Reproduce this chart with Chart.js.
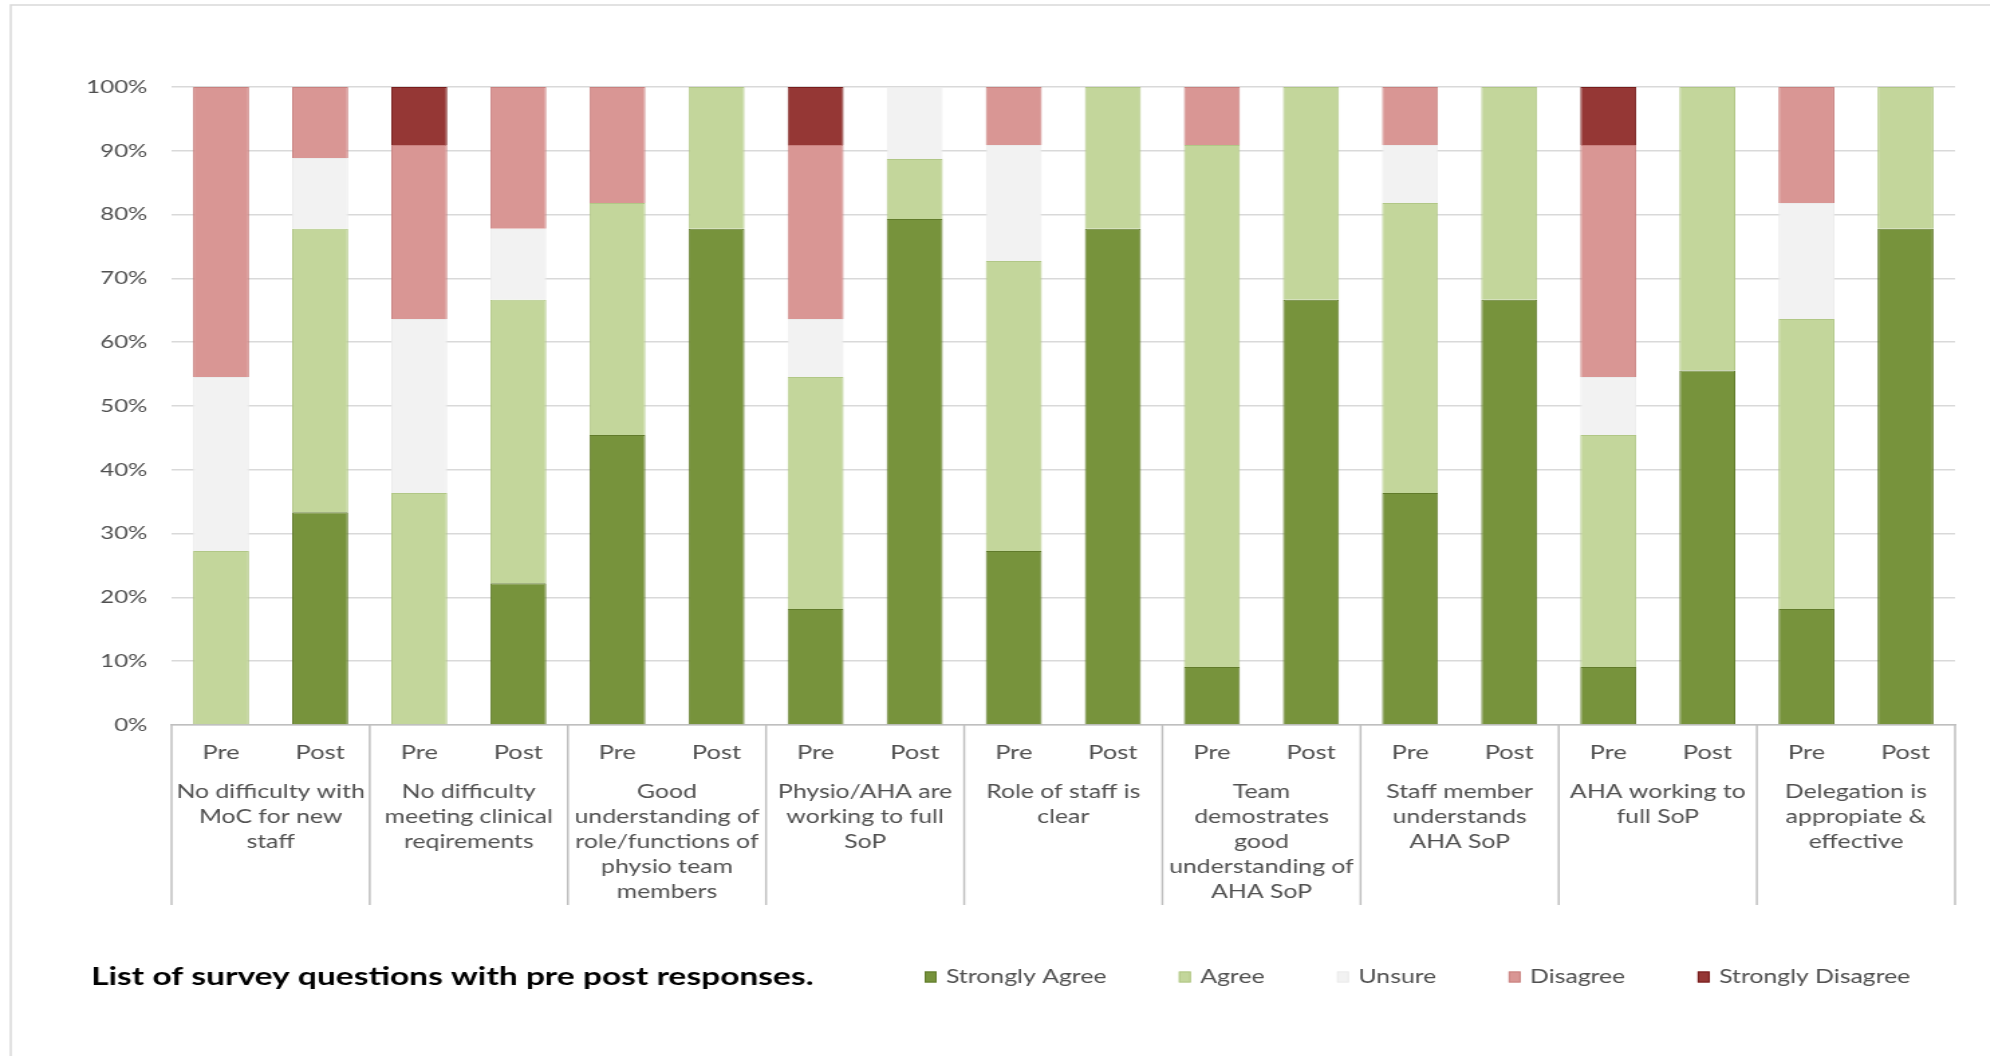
<!DOCTYPE html>
<html>
<head>
<meta charset="utf-8">
<title>Survey responses pre / post</title>
<script src="https://cdn.jsdelivr.net/npm/chart.js@4.4.1/dist/chart.umd.min.js"></script>
<style>
  html, body { margin: 0; padding: 0; background: #fff; overflow: hidden; }
  /* chart is laid out narrow and widened, the way the original export was */
  #wrap { width: 1485px; height: 1056px; transform: scaleX(1.34); transform-origin: 0 0; }
</style>
</head>
<body>
<div id="wrap"><canvas id="surveyChart"></canvas></div>
<script>
const questions = [
  ['No difficulty with', 'MoC for new', 'staff'],
  ['No difficulty', 'meeting clinical', 'reqirements'],
  ['Good', 'understanding of', 'role/functions of', 'physio team', 'members'],
  ['Physio/AHA are', 'working to full', 'SoP'],
  ['Role of staff is', 'clear'],
  ['Team', 'demostrates', 'good', 'understanding of', 'AHA SoP'],
  ['Staff member', 'understands', 'AHA SoP'],
  ['AHA working to', 'full SoP'],
  ['Delegation is', 'appropiate &', 'effective']
];
const phases = ['Pre', 'Post'];
const yTicks = [0, 10, 20, 30, 40, 50, 60, 70, 80, 90, 100];

// % of responses, one value per bar (Pre, Post for each question)
const strongAgree    = [0, 33.33, 0, 22.22, 45.45, 77.78, 18.18, 79.3, 27.27, 77.78, 9.09, 66.67, 36.36, 66.67, 9.09, 55.56, 18.18, 77.78];
const agree          = [27.27, 44.44, 36.36, 44.44, 36.36, 22.22, 36.36, 9.4, 45.45, 22.22, 81.82, 33.33, 45.45, 33.33, 36.36, 44.44, 45.45, 22.22];
const unsure         = [27.27, 11.11, 27.27, 11.11, 0, 0, 9.09, 11.3, 18.18, 0, 0, 0, 9.09, 0, 9.09, 0, 18.18, 0];
const disagree       = [45.45, 11.11, 27.27, 22.22, 18.18, 0, 27.27, 0, 9.09, 0, 9.09, 0, 9.09, 0, 36.36, 0, 18.18, 0];
const strongDisagree = [0, 0, 9.09, 0, 0, 0, 9.09, 0, 0, 0, 0, 0, 0, 0, 9.09, 0, 0, 0];

const chartTitle = 'List of survey questions with pre post responses.';

const FONT = 'Lato';
const TEXT = '#505050';

const labels = questions.flatMap(() => phases);

const series = [
  { label: 'Strongly Agree',    data: strongAgree,    fill: '#77933c', line: '#617b2b' },
  { label: 'Agree',             data: agree,          fill: '#c3d69b', line: '#b1c786' },
  { label: 'Unsure',            data: unsure,         fill: '#f2f2f2', line: '#ececec' },
  { label: 'Disagree',          data: disagree,       fill: '#d99694', line: '#c9817f' },
  { label: 'Strongly Disagree', data: strongDisagree, fill: '#953735', line: '#771d1c' }
];

// question names under the Pre/Post pairs, group dividers, frame, caption and key
const questionAxis = {
  id: 'questionAxis',
  beforeDraw(chart) {
    const ctx = chart.ctx;
    ctx.save();
    ctx.strokeStyle = '#d9d9d9';
    ctx.lineWidth = 1.5;
    ctx.strokeRect(8, 5, chart.width + 20, chart.height + 20);
    ctx.restore();
  },
  afterDraw(chart) {
    const ctx = chart.ctx;
    const x = chart.scales.x;
    const half = (x.getPixelForValue(1) - x.getPixelForValue(0)) / 2;

    ctx.save();
    ctx.strokeStyle = '#bfbfbf';
    ctx.lineWidth = 1.5;
    for (let g = 0; g <= questions.length; g++) {
      const px = x.getPixelForValue(g * phases.length) - half;
      ctx.beginPath();
      ctx.moveTo(px, x.top);
      ctx.lineTo(px, x.top + 180);
      ctx.stroke();
    }

    ctx.fillStyle = TEXT;
    ctx.font = `18.5px ${FONT}`;
    ctx.textAlign = 'center';
    ctx.textBaseline = 'middle';
    questions.forEach((lines, g) => {
      const cx = (x.getPixelForValue(g * 2) + x.getPixelForValue(g * 2 + 1)) / 2;
      lines.forEach((line, i) => ctx.fillText(line, cx, x.top + 67 + i * 25));
    });

    // caption
    const rowY = 977;
    ctx.fillStyle = '#000';
    ctx.font = `bold 25px ${FONT}`;
    ctx.textAlign = 'left';
    ctx.fillText(chartTitle, 68, rowY);

    // key
    ctx.font = `18.5px ${FONT}`;
    let lx = 690;
    chart.data.datasets.forEach(ds => {
      ctx.fillStyle = ds.backgroundColor;
      ctx.fillRect(lx, rowY - 5.5, 9, 11);
      ctx.strokeStyle = ds.borderColor;
      ctx.lineWidth = 1;
      ctx.strokeRect(lx + 0.5, rowY - 5, 8, 10);
      ctx.fillStyle = TEXT;
      ctx.fillText(ds.label, lx + 16, rowY);
      lx += 16 + ctx.measureText(ds.label).width + 54;
    });
    ctx.restore();
  }
};

new Chart(document.getElementById('surveyChart'), {
  type: 'bar',
  data: {
    labels,
    datasets: series.map(s => ({
      label: s.label,
      data: s.data,
      backgroundColor: s.fill,
      borderColor: s.line,
      borderWidth: 1,
      categoryPercentage: 1,
      barPercentage: 0.565
    }))
  },
  options: {
    responsive: true,
    maintainAspectRatio: false,
    animation: false,
    layout: { padding: { top: 87, right: 26, bottom: 151, left: 0 } },
    plugins: {
      legend: { display: false },
      tooltip: { enabled: false }
    },
    scales: {
      x: {
        stacked: true,
        grid: { display: false },
        border: { color: '#bfbfbf', width: 1.5 },
        ticks: { color: TEXT, font: { family: FONT, size: 19 }, padding: 8, maxRotation: 0, autoSkip: false },
        afterFit: s => { s.height = 180; }
      },
      y: {
        stacked: true,
        min: 0,
        max: 100,
        afterBuildTicks: s => { s.ticks = yTicks.map(v => ({ value: v })); },
        grid: { color: '#d9d9d9', lineWidth: 1.5, drawTicks: false },
        border: { display: false },
        ticks: { color: TEXT, font: { family: FONT, size: 18 }, padding: 18, callback: v => v + '%' },
        afterFit: s => { s.width = 128; }
      }
    }
  },
  plugins: [questionAxis]
});
</script>
</body>
</html>
